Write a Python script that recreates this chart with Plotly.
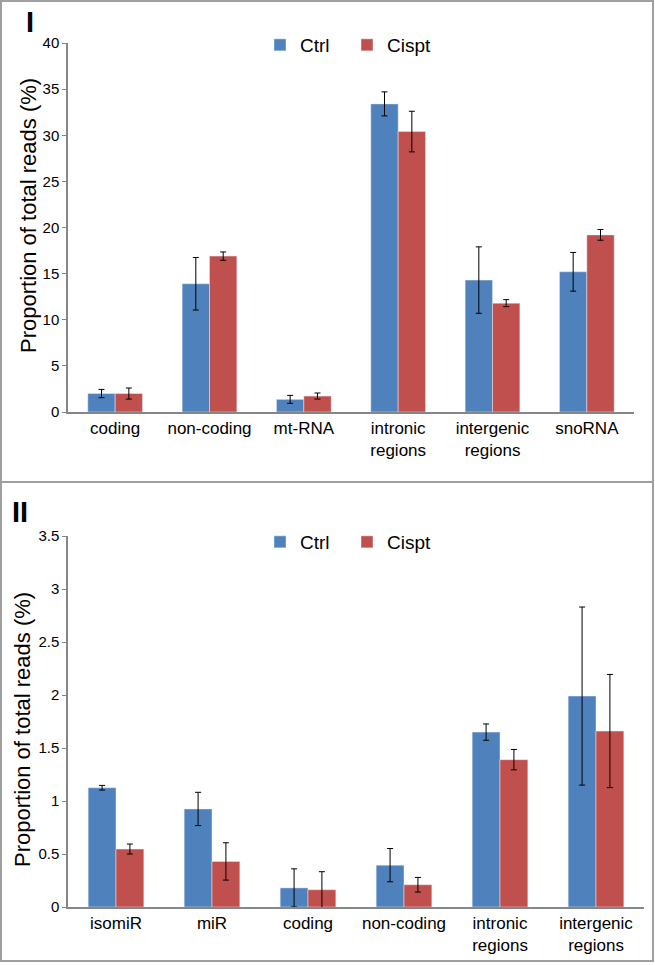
import plotly.graph_objects as go

# Panel I data
cats_1 = ["coding", "non-coding", "mt-RNA", "intronic<br>regions", "intergenic<br>regions", "snoRNA"]
ctrl_1 = [2.0, 13.9, 1.37, 33.4, 14.3, 15.2]
ctrl_1_err = [0.45, 2.85, 0.43, 1.3, 3.6, 2.1]
cispt_1 = [2.0, 16.9, 1.73, 30.4, 11.8, 19.2]
cispt_1_err = [0.6, 0.45, 0.33, 2.2, 0.38, 0.58]

# Panel II data
cats_2 = ["isomiR", "miR", "coding", "non-coding", "intronic<br>regions", "intergenic<br>regions"]
ctrl_2 = [1.125, 0.925, 0.18, 0.395, 1.65, 1.99]
ctrl_2_err = [0.022, 0.157, 0.18, 0.157, 0.077, 0.84]
cispt_2 = [0.547, 0.43, 0.163, 0.21, 1.39, 1.66]
cispt_2_err = [0.047, 0.176, 0.17, 0.069, 0.096, 0.534]

BLUE = "#4F81BD"
RED = "#C0504D"
W, H = 655, 965

def px_x(x):
    return x / W

def px_y(y):
    return 1 - y / H

err_style = dict(type="data", thickness=1, width=3, color="black", visible=True)

fig = go.Figure()

# panel I bars
fig.add_trace(go.Bar(x=cats_1, y=ctrl_1, name="Ctrl", marker_color=BLUE,
                     error_y=dict(array=ctrl_1_err, **err_style),
                     xaxis="x", yaxis="y", legend="legend"))
fig.add_trace(go.Bar(x=cats_1, y=cispt_1, name="Cispt", marker_color=RED,
                     error_y=dict(array=cispt_1_err, **err_style),
                     xaxis="x", yaxis="y", legend="legend"))

# panel II bars
fig.add_trace(go.Bar(x=cats_2, y=ctrl_2, name="Ctrl", marker_color=BLUE,
                     error_y=dict(array=ctrl_2_err, **err_style),
                     xaxis="x2", yaxis="y2", legend="legend2"))
fig.add_trace(go.Bar(x=cats_2, y=cispt_2, name="Cispt", marker_color=RED,
                     error_y=dict(array=cispt_2_err, **err_style),
                     xaxis="x2", yaxis="y2", legend="legend2"))

tick_font = dict(family="Liberation Sans Narrow, Arial Narrow, Liberation Sans, Arial", size=15, color="black")
cat_font = dict(family="Liberation Sans, Arial", size=17, color="black")
title_font = dict(family="Liberation Sans, Arial", size=22, color="black")
axis_grey = "#868686"

xaxis_common = dict(showline=True, linecolor=axis_grey, linewidth=1.5, ticks="",
                    showgrid=False, zeroline=False, tickfont=cat_font, automargin=False)
yaxis_common = dict(showline=True, linecolor=axis_grey, linewidth=1.5, ticks="outside",
                    ticklen=4, tickcolor=axis_grey, showgrid=False, zeroline=False,
                    tickfont=tick_font, ticklabelstandoff=0, automargin=False)

legend_common = dict(orientation="h", font=dict(family="Liberation Sans, Arial", size=19, color="black"),
                     xanchor="left", yanchor="middle", bgcolor="rgba(0,0,0,0)",
                     entrywidth=42, entrywidthmode="pixels")

fig.update_layout(
    width=W, height=H,
    margin=dict(l=0, r=0, t=0, b=0, autoexpand=False),
    plot_bgcolor="white", paper_bgcolor="white",
    barmode="group", bargap=0.42, bargroupgap=0,
    xaxis=dict(domain=[px_x(68), px_x(634)], anchor="y", **xaxis_common),
    yaxis=dict(domain=[px_y(412), px_y(43)], anchor="x", range=[0, 40], dtick=5, **yaxis_common),
    xaxis2=dict(domain=[px_x(68), px_x(644)], anchor="y2", **xaxis_common),
    yaxis2=dict(domain=[px_y(907), px_y(536)], anchor="x2", range=[0, 3.5], dtick=0.5, **yaxis_common),
    legend=dict(x=px_x(260), y=px_y(45), **legend_common),
    legend2=dict(x=px_x(260), y=px_y(542), **legend_common),
    showlegend=True,
)

# y axis titles
fig.add_annotation(text="Proportion of total reads (%)", textangle=-90, x=px_x(29), y=px_y(216),
                   xanchor="center", yanchor="middle",
                   xref="paper", yref="paper", showarrow=False, font=title_font)
fig.add_annotation(text="Proportion of total reads (%)", textangle=-90, x=px_x(22), y=px_y(730),
                   xanchor="center", yanchor="middle",
                   xref="paper", yref="paper", showarrow=False, font=title_font)

# panel labels
fig.add_annotation(text="<b>I</b>", x=px_x(30), y=px_y(4), xanchor="center", yanchor="top",
                   xref="paper", yref="paper", showarrow=False,
                   font=dict(family="Liberation Sans, Arial", size=29, color="black"))
fig.add_annotation(text="<b>II</b>", x=px_x(20), y=px_y(494), xanchor="center", yanchor="top",
                   xref="paper", yref="paper", showarrow=False,
                   font=dict(family="Liberation Sans, Arial", size=29, color="black"))

# panel borders
border = dict(color="#a0a0a0", width=2)
fig.add_shape(type="rect", xref="paper", yref="paper", x0=px_x(1), x1=px_x(653),
              y0=px_y(482), y1=px_y(1), line=border)
fig.add_shape(type="rect", xref="paper", yref="paper", x0=px_x(1), x1=px_x(653),
              y0=px_y(961), y1=px_y(482), line=border)

fig.write_html("out.html", config={"displayModeBar": False},
               post_script="document.body.style.margin='0';")
